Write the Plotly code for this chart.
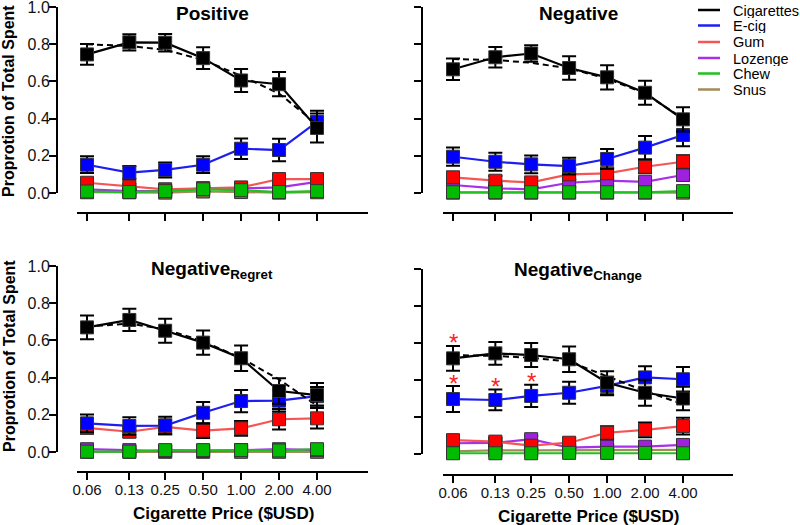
import plotly.graph_objects as go
import math

# ---------------- data ----------------
prices = [0.06, 0.13, 0.25, 0.50, 1.00, 2.00, 4.00]
price_labels = ["0.06", "0.13", "0.25", "0.50", "1.00", "2.00", "4.00"]
y_ticks = [0, 0.2, 0.4, 0.6, 0.8, 1.0]
y_tick_labels = ["0.0", "0.2", "0.4", "0.6", "0.8", "1.0"]
products = ["Cigarettes", "E-cig", "Gum", "Lozenge", "Chew", "Snus"]
panel_titles = ["Positive", "Negative", "Negative<sub>Regret</sub>", "Negative<sub>Change</sub>"]

# Positive
pos_cig = [0.745, 0.810, 0.808, 0.725, 0.605, 0.585, 0.350]
pos_cig_err = [0.056, 0.044, 0.047, 0.058, 0.062, 0.065, 0.078]
pos_cig_fit = [0.800, 0.790, 0.770, 0.715, 0.630, 0.535, 0.370]
pos_ecig = [0.152, 0.110, 0.124, 0.152, 0.238, 0.231, 0.382]
pos_ecig_err = [0.045, 0.035, 0.040, 0.045, 0.055, 0.060, 0.060]
pos_gum = [0.055, 0.035, 0.020, 0.025, 0.030, 0.075, 0.075]
pos_gum_err = [0.015, 0.015, 0.012, 0.012, 0.015, 0.020, 0.020]
pos_loz = [0.020, 0.010, 0.012, 0.025, 0.025, 0.030, 0.060]
pos_loz_err = [0.010, 0.008, 0.008, 0.010, 0.010, 0.012, 0.015]
pos_chew = [0.008, 0.005, 0.010, 0.020, 0.015, 0.005, 0.010]
pos_chew_err = [0.005, 0.004, 0.005, 0.008, 0.008, 0.004, 0.005]
pos_snus = [0.004, 0.004, 0.002, 0.008, 0.005, 0.002, 0.004]
pos_snus_err = [0.003, 0.003, 0.002, 0.004, 0.003, 0.002, 0.003]

# Negative
neg_cig = [0.665, 0.730, 0.750, 0.672, 0.622, 0.539, 0.396]
neg_cig_err = [0.058, 0.055, 0.045, 0.063, 0.065, 0.065, 0.065]
neg_cig_fit = [0.720, 0.715, 0.700, 0.670, 0.615, 0.535, 0.400]
neg_ecig = [0.195, 0.168, 0.154, 0.145, 0.183, 0.244, 0.312]
neg_ecig_err = [0.049, 0.048, 0.048, 0.045, 0.054, 0.063, 0.060]
neg_gum = [0.084, 0.066, 0.057, 0.100, 0.106, 0.141, 0.168]
neg_gum_err = [0.030, 0.025, 0.025, 0.030, 0.030, 0.035, 0.035]
neg_loz = [0.043, 0.025, 0.020, 0.055, 0.066, 0.060, 0.097]
neg_loz_err = [0.015, 0.012, 0.010, 0.020, 0.022, 0.022, 0.030]
neg_chew = [0.004, 0.004, 0.004, 0.004, 0.004, 0.004, 0.010]
neg_chew_err = [0.003, 0.003, 0.003, 0.003, 0.003, 0.003, 0.005]
neg_snus = [0.002, 0.002, 0.002, 0.002, 0.002, 0.002, 0.002]
neg_snus_err = [0.002, 0.002, 0.002, 0.002, 0.002, 0.002, 0.002]

# Negative Regret
reg_cig = [0.670, 0.710, 0.652, 0.588, 0.504, 0.328, 0.306]
reg_cig_err = [0.064, 0.060, 0.065, 0.065, 0.068, 0.068, 0.065]
reg_cig_fit = [0.675, 0.690, 0.660, 0.595, 0.505, 0.390, 0.250]
reg_ecig = [0.154, 0.140, 0.142, 0.211, 0.274, 0.276, 0.300]
reg_ecig_err = [0.048, 0.047, 0.047, 0.058, 0.060, 0.058, 0.050]
reg_gum = [0.130, 0.109, 0.135, 0.115, 0.127, 0.176, 0.181]
reg_gum_err = [0.030, 0.030, 0.040, 0.040, 0.040, 0.055, 0.055]
reg_loz = [0.015, 0.010, 0.005, 0.005, 0.010, 0.015, 0.010]
reg_loz_err = [0.006, 0.005, 0.004, 0.004, 0.005, 0.006, 0.005]
reg_chew = [0.002, 0.002, 0.010, 0.010, 0.010, 0.008, 0.015]
reg_chew_err = [0.003, 0.003, 0.004, 0.004, 0.004, 0.004, 0.005]
reg_snus = [0.001, 0.001, 0.001, 0.001, 0.001, 0.001, 0.001]
reg_snus_err = [0.002, 0.002, 0.002, 0.002, 0.002, 0.002, 0.002]

# Negative Change
chg_cig = [0.517, 0.544, 0.535, 0.512, 0.385, 0.331, 0.300]
chg_cig_err = [0.067, 0.061, 0.065, 0.069, 0.062, 0.070, 0.063]
chg_cig_fit = [0.535, 0.530, 0.520, 0.500, 0.420, 0.340, 0.270]
chg_ecig = [0.297, 0.292, 0.314, 0.331, 0.368, 0.414, 0.404]
chg_ecig_err = [0.070, 0.056, 0.060, 0.059, 0.050, 0.060, 0.066]
chg_gum = [0.075, 0.067, 0.045, 0.061, 0.115, 0.130, 0.151]
chg_gum_err = [0.025, 0.020, 0.020, 0.025, 0.035, 0.040, 0.045]
chg_loz = [0.058, 0.060, 0.080, 0.034, 0.040, 0.040, 0.049]
chg_loz_err = [0.015, 0.015, 0.018, 0.010, 0.012, 0.012, 0.015]
chg_chew = [0.004, 0.004, 0.004, 0.006, 0.006, 0.006, 0.004]
chg_chew_err = [0.003, 0.003, 0.003, 0.003, 0.003, 0.003, 0.003]
chg_snus = [0.015, 0.020, 0.020, 0.020, 0.020, 0.020, 0.022]
chg_snus_err = [0.004, 0.004, 0.004, 0.004, 0.004, 0.004, 0.004]

# significance stars (Negative Change panel): (product, price index)
chg_stars = [("Cigarettes", 0), ("E-cig", 0), ("E-cig", 1), ("E-cig", 2)]

# ---------------- styling ----------------
FONT = "Arial, Liberation Sans, sans-serif"
line_colors = {"Cigarettes": "#000000", "E-cig": "#1e1ef0", "Gum": "#f55555",
               "Lozenge": "#a830e8", "Chew": "#20c020", "Snus": "#a08c5a"}
marker_colors = {"Cigarettes": "#000000", "E-cig": "#0000ff", "Gum": "#ff0000",
                 "Lozenge": "#a020e0", "Chew": "#00bb00", "Snus": "#8b7a40"}
draw_order = ["Snus", "Lozenge", "Gum", "Chew", "E-cig", "Cigarettes"]

panels = [
    dict(vals={"Cigarettes": (pos_cig, pos_cig_err), "E-cig": (pos_ecig, pos_ecig_err),
               "Gum": (pos_gum, pos_gum_err), "Lozenge": (pos_loz, pos_loz_err),
               "Chew": (pos_chew, pos_chew_err), "Snus": (pos_snus, pos_snus_err)},
         fit=pos_cig_fit, stars=[]),
    dict(vals={"Cigarettes": (neg_cig, neg_cig_err), "E-cig": (neg_ecig, neg_ecig_err),
               "Gum": (neg_gum, neg_gum_err), "Lozenge": (neg_loz, neg_loz_err),
               "Chew": (neg_chew, neg_chew_err), "Snus": (neg_snus, neg_snus_err)},
         fit=neg_cig_fit, stars=[]),
    dict(vals={"Cigarettes": (reg_cig, reg_cig_err), "E-cig": (reg_ecig, reg_ecig_err),
               "Gum": (reg_gum, reg_gum_err), "Lozenge": (reg_loz, reg_loz_err),
               "Chew": (reg_chew, reg_chew_err), "Snus": (reg_snus, reg_snus_err)},
         fit=reg_cig_fit, stars=[]),
    dict(vals={"Cigarettes": (chg_cig, chg_cig_err), "E-cig": (chg_ecig, chg_ecig_err),
               "Gum": (chg_gum, chg_gum_err), "Lozenge": (chg_loz, chg_loz_err),
               "Chew": (chg_chew, chg_chew_err), "Snus": (chg_snus, chg_snus_err)},
         fit=chg_cig_fit, stars=chg_stars),
]

W, H = 800, 525
# pixel layout of each panel: x-domain left/right, y px of value 1.0, y px of the x-axis line
geom = [
    dict(x0=57, x1=368, ytop=7, ybot=213, y0px=193, xl=77, first=87, last=317),
    dict(x0=422, x1=733, ytop=7, ybot=213, y0px=193, xl=443, first=453, last=683),
    dict(x0=57, x1=368, ytop=266, ybot=472, y0px=452, xl=77, first=87, last=317),
    dict(x0=422, x1=733, ytop=269, ybot=475, y0px=454, xl=443, first=453, last=683),
]

fig = go.Figure()
layout = dict(width=W, height=H, margin=dict(l=0, r=0, t=0, b=0),
              template="none", paper_bgcolor="white", plot_bgcolor="white",
              showlegend=False, font=dict(family=FONT, color="#000000"))
shapes, annotations = [], []

for i, (p, g) in enumerate(zip(panels, geom)):
    n = "" if i == 0 else str(i + 1)
    xa, ya = "x" + n, "y" + n
    per_px = (math.log10(prices[-1]) - math.log10(prices[0])) / (g["last"] - g["first"])
    xr = [math.log10(prices[0]) - (g["first"] - g["x0"]) * per_px,
          math.log10(prices[-1]) + (g["x1"] - g["last"]) * per_px]
    unit = g["y0px"] - g["ytop"]
    top_pad = 1.0 / unit  # one pixel headroom so the 1.0 tick is kept
    yr = [-(g["ybot"] - g["y0px"]) / unit, 1.0 + top_pad]
    bottom = i >= 2
    left = i % 2 == 0
    layout["xaxis" + n] = dict(
        domain=[g["x0"] / W, g["x1"] / W], type="log", range=xr, anchor=ya,
        tickvals=prices, ticktext=price_labels, showticklabels=bottom,
        ticks="outside", ticklen=7, tickwidth=2, tickcolor="#000",
        ticklabelstandoff=-3, ticklabeloverflow="allow",
        showline=False, showgrid=False, zeroline=False,
        tickfont=dict(size=15, family=FONT, color="#111"))
    layout["yaxis" + n] = dict(
        domain=[1 - g["ybot"] / H, 1 - (g["ytop"] - 1) / H], range=yr, anchor=xa,
        tickvals=y_ticks, ticktext=y_tick_labels, showticklabels=left,
        ticks="outside", ticklen=7, tickwidth=2, tickcolor="#000",
        ticklabelstandoff=-4, ticklabeloverflow="allow",
        showline=False, showgrid=False, zeroline=False,
        tickfont=dict(size=16, family=FONT, color="#111"))
    # detached axis lines
    shapes.append(dict(type="line", xref=xa + " domain", yref=ya, x0=0, x1=0, y0=0, y1=1,
                       line=dict(color="#000", width=2)))
    shapes.append(dict(type="line", xref=xa + " domain", yref=ya + " domain",
                       x0=(g["xl"] - g["x0"]) / (g["x1"] - g["x0"]), x1=1, y0=0, y1=0,
                       line=dict(color="#000", width=2)))

    for prod in draw_order:
        vals, errs = p["vals"][prod]
        if prod == "Cigarettes":
            fig.add_trace(go.Scatter(
                x=prices, y=p["fit"], mode="lines", xaxis=xa, yaxis=ya,
                line=dict(color="#000", width=2, dash="6px,4px"), cliponaxis=False,
                hoverinfo="skip"))
        fig.add_trace(go.Scatter(
            x=prices, y=vals, name=prod, mode="lines+markers", xaxis=xa, yaxis=ya,
            line=dict(color=line_colors[prod], width=2.2),
            marker=dict(symbol="square", size=13, color=marker_colors[prod],
                        line=dict(color="#333", width=1)),
            error_y=dict(type="data", array=errs, color="#000", thickness=2, width=7),
            cliponaxis=False))
    for prod, k in p["stars"]:
        vals, errs = p["vals"][prod]
        annotations.append(dict(x=math.log10(prices[k]), y=vals[k] + errs[k], xref=xa, yref=ya,
                                text="*", showarrow=False, yanchor="middle", yshift=3,
                                font=dict(size=24, color="#ff2020", family=FONT)))

# panel titles
title_pos = [(212, 13), (578, 13), (212, 270), (578, 271)]
for t, (tx, ty) in zip(panel_titles, title_pos):
    annotations.append(dict(text="<b>%s</b>" % t, x=tx / W, y=1 - ty / H, xref="paper", yref="paper",
                            showarrow=False, xanchor="center", yanchor="middle",
                            font=dict(size=19, family=FONT, color="#000")))
# axis titles
for cy in (101, 356):
    annotations.append(dict(text="<b>Proprotion of Total Spent</b>", x=9 / W, y=1 - cy / H,
                            xref="paper", yref="paper", showarrow=False, textangle=-90,
                            xanchor="center", yanchor="middle",
                            font=dict(size=16, family=FONT, color="#000")))
for cx, cy in ((223, 513), (588, 516)):
    annotations.append(dict(text="<b>Cigarette Price ($USD)</b>", x=cx / W, y=1 - cy / H,
                            xref="paper", yref="paper", showarrow=False,
                            xanchor="center", yanchor="middle",
                            font=dict(size=17, family=FONT, color="#000")))

# legend (line samples + labels)
legend_rows = [10, 25.5, 42, 58, 73.5, 89.5]
for prod, ry in zip(products, legend_rows):
    shapes.append(dict(type="line", xref="paper", yref="paper", x0=698 / W, x1=720 / W,
                       y0=1 - ry / H, y1=1 - ry / H, line=dict(color=line_colors[prod], width=2.5)))
    annotations.append(dict(text=prod, x=731 / W, y=1 - ry / H, xref="paper", yref="paper",
                            showarrow=False, xanchor="left", yanchor="middle", height=15,
                            font=dict(size=14.5, family=FONT, color="#000")))

layout["shapes"] = shapes
layout["annotations"] = annotations
fig.update_layout(**layout)
fig.write_html("out.html", config={"displayModeBar": False},
               post_script="document.body.style.margin='0';document.body.style.padding='0';")
